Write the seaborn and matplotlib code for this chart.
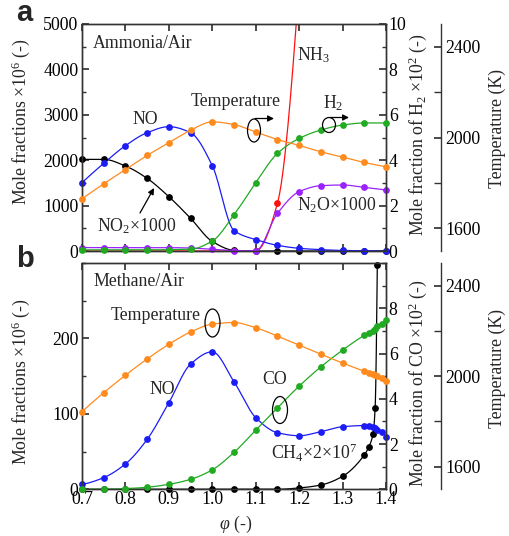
import numpy as np
import matplotlib
matplotlib.use("Agg")
import matplotlib.pyplot as plt
import seaborn as sns
from matplotlib.patches import Ellipse
from matplotlib.ticker import MultipleLocator, FixedLocator, StrMethodFormatter
from matplotlib.transforms import IdentityTransform

# ---------------- data ----------------
# (a) ammonia/air flames
phi_a = [0.70, 0.75, 0.80, 0.85, 0.90, 0.95, 1.00, 1.05, 1.10, 1.15, 1.20, 1.25, 1.30, 1.35, 1.40]
no_a = [1505, 1931, 2320, 2606, 2739, 2606, 1880, 450, 250, 125, 59, 30, 12, 6, 5]
no2_a = [2019, 2019, 1872, 1600, 1197, 720, 210, 15, 0, 0, 0, 0, 0, 0, 0]
n2o_a = [75, 75, 75, 75, 75, 65, 37, 10, 5, 830, 1307, 1439, 1454, 1402, 1344]
nh3_a = [0, 0, 0, 0, 0, 0, 0, 0, 0, 1050, 5900, np.nan, np.nan, np.nan, np.nan]
h2_a = [0.05, 0.05, 0.05, 0.05, 0.06, 0.08, 0.44, 1.59, 3.01, 4.30, 4.96, 5.33, 5.55, 5.64, 5.64]
temp_a = [1730, 1796, 1859, 1921, 1977, 2032, 2069, 2057, 2024, 1991, 1965, 1937, 1914, 1890, 1871]

# (b) methane/air flames
phi_b = [0.70, 0.75, 0.80, 0.85, 0.90, 0.95, 1.00, 1.05, 1.10, 1.15, 1.20, 1.25, 1.30, 1.35,
         1.36, 1.37, 1.375, 1.38, 1.39, 1.40]
no_b = [6.6, 15.5, 33.6, 66.2, 114.8, 166, 182.3, 142.6, 95, 75, 71, 76.4, 83, 84.5,
        83.4, 82, 80.8, 78.5, 75.5, 69.7]
ch4_b = [0, 0, 0, 0, 0, 0, 0, 0, 0, 0, 1.8, 5.7, 17.2, 45.4,
         55.6, 73.2, 108, 298, np.nan, np.nan]
co_b = [0, 0, 0.03, 0.09, 0.22, 0.44, 0.86, 1.63, 2.61, 3.6, 4.56, 5.41, 6.15, 6.8,
        6.9, 7.0, 7.09, 7.2, 7.29, 7.47]
temp_b = [1843, 1927, 2004, 2076, 2141, 2195, 2230, 2237, 2214, 2177, 2137, 2097, 2058, 2022,
          2016, 2009, 2005, 2000, 1992, 1980]

x_ticks = [0.7, 0.8, 0.9, 1.0, 1.1, 1.2, 1.3, 1.4]
x_ticklabels = ["0.7", "0.8", "0.9", "1.0", "1.1", "1.2", "1.3", "1.4"]

C_NO = "#1c1cf5"
C_T = "#ff8a1e"
C_G = "#22aa22"
C_K = "#000000"
C_P = "#9a22ff"
C_R = "#ff1010"

# ---------------- style ----------------
SERIF = "Liberation Serif"
sns.set_theme(style="ticks")
plt.rcParams["font.family"] = [SERIF, "DejaVu Serif"]
plt.rcParams["font.serif"] = [SERIF, "DejaVu Serif"]
plt.rcParams["mathtext.fontset"] = "custom"
plt.rcParams["mathtext.rm"] = SERIF
plt.rcParams["mathtext.it"] = SERIF + ":italic"
plt.rcParams["mathtext.default"] = "regular"
plt.rcParams["axes.formatter.use_mathtext"] = False
FS = 12.8

W, H = 510, 536
fig = plt.figure(figsize=(W / 100, H / 100), dpi=100)
INT_FMT = StrMethodFormatter("{x:.0f}")


def rect(left, top, right, bottom):
    return [left / W, 1 - bottom / H, (right - left) / W, (bottom - top) / H]


def pchip_curve(x, y, n=30):
    """Shape-preserving cubic through the given points."""
    x = np.asarray(x, float)
    y = np.asarray(y, float)
    ok = np.isfinite(y)
    x, y = x[ok], y[ok]
    h = np.diff(x)
    d = np.diff(y) / h
    m = np.zeros_like(y)
    for k in range(1, len(x) - 1):
        if d[k - 1] * d[k] > 0:
            w1 = 2 * h[k] + h[k - 1]
            w2 = h[k] + 2 * h[k - 1]
            m[k] = (w1 + w2) / (w1 / d[k - 1] + w2 / d[k])
    for i0, hh0, hh1, dd0, dd1 in [(0, h[0], h[1], d[0], d[1]),
                                   (-1, h[-1], h[-2], d[-1], d[-2])]:
        mm = ((2 * hh0 + hh1) * dd0 - hh0 * dd1) / (hh0 + hh1)
        if np.sign(mm) != np.sign(dd0):
            mm = 0.0
        elif np.sign(dd0) != np.sign(dd1) and abs(mm) > abs(3 * dd0):
            mm = 3 * dd0
        m[i0] = mm
    xs, ys = [], []
    for k in range(len(x) - 1):
        t = np.linspace(0, 1, n, endpoint=(k == len(x) - 2))
        h00 = 2 * t**3 - 3 * t**2 + 1
        h10 = t**3 - 2 * t**2 + t
        h01 = -2 * t**3 + 3 * t**2
        h11 = t**3 - t**2
        xs.append(x[k] + t * h[k])
        ys.append(h00 * y[k] + h10 * h[k] * m[k] + h01 * y[k + 1] + h11 * h[k] * m[k + 1])
    return np.concatenate(xs), np.concatenate(ys)


def series(ax, x, y, color, clip=False):
    xs, ys = pchip_curve(x, y)
    sns.lineplot(x=xs, y=ys, ax=ax, color=color, linewidth=0.9,
                 estimator=None, sort=False, legend=False)
    sns.scatterplot(x=x, y=y, ax=ax, color=color, s=24, linewidth=0,
                    legend=False, zorder=3, clip_on=clip)


def style_axes(ax, right_ax, t_ax):
    for a in (ax, right_ax, t_ax):
        for sp in a.spines.values():
            sp.set_color("#333333")
            sp.set_linewidth(1.0)
    ax.set_xlim(0.7, 1.4)
    ax.xaxis.set_major_locator(FixedLocator(x_ticks))
    ax.tick_params(axis="both", which="both", direction="in", top=True, right=False,
                   labelsize=FS, colors="#333333", labelcolor="black",
                   labelfontfamily=SERIF)
    ax.tick_params(which="major", length=5, pad=2.5)
    ax.tick_params(which="minor", length=3)
    right_ax.tick_params(axis="y", which="both", direction="in", labelsize=FS,
                         colors="#333333", labelcolor="black", pad=2,
                         labelfontfamily=SERIF)
    right_ax.tick_params(which="major", length=5)
    right_ax.tick_params(which="minor", length=3)
    t_ax.spines["right"].set_position(("axes", 1.181))
    for s in ("left", "top", "bottom"):
        t_ax.spines[s].set_visible(False)
    t_ax.set_ylim(1500, 2500)
    t_ax.yaxis.set_major_locator(FixedLocator([1600, 2000, 2400]))
    t_ax.yaxis.set_minor_locator(FixedLocator([1800, 2200]))
    t_ax.tick_params(axis="y", which="both", direction="in", labelsize=FS,
                     colors="#333333", labelcolor="black", pad=3,
                     labelfontfamily=SERIF)
    t_ax.tick_params(which="major", length=5)
    t_ax.tick_params(which="minor", length=5)
    for a in (ax, right_ax, t_ax):
        a.yaxis.set_major_formatter(INT_FMT)
        a.set_xlabel("")
        a.set_ylabel("")


# ---------------- panel a ----------------
ax_a = fig.add_axes(rect(82, 24, 386, 251))
ax_a_r = ax_a.twinx()
ax_a_t = ax_a.twinx()

series(ax_a, phi_a, no2_a, C_K)
series(ax_a, phi_a, nh3_a, C_R, clip=True)
series(ax_a, phi_a, n2o_a, C_P)
series(ax_a, phi_a, no_a, C_NO)
series(ax_a_r, phi_a, h2_a, C_G)
series(ax_a_t, phi_a, temp_a, C_T)

ax_a.set_ylim(0, 5000)
ax_a.yaxis.set_major_locator(MultipleLocator(1000))
ax_a.yaxis.set_minor_locator(MultipleLocator(500))
ax_a_r.set_ylim(0, 10)
ax_a_r.yaxis.set_major_locator(MultipleLocator(2))
ax_a_r.yaxis.set_minor_locator(MultipleLocator(1))
style_axes(ax_a, ax_a_r, ax_a_t)
ax_a.tick_params(labelbottom=False)

# ---------------- panel b ----------------
ax_b = fig.add_axes(rect(82, 263, 386, 489.3))
ax_b_r = ax_b.twinx()
ax_b_t = ax_b.twinx()

series(ax_b, phi_b, ch4_b, C_K)
series(ax_b, phi_b, no_b, C_NO)
series(ax_b_r, phi_b, co_b, C_G)
series(ax_b_t, phi_b, temp_b, C_T)

ax_b.set_ylim(0, 300)
ax_b.yaxis.set_major_locator(FixedLocator([0, 100, 200]))
ax_b.yaxis.set_minor_locator(FixedLocator([50, 150, 250, 300]))
ax_b_r.set_ylim(0, 10)
ax_b_r.yaxis.set_major_locator(FixedLocator([0, 2, 4, 6, 8]))
ax_b_r.yaxis.set_minor_locator(FixedLocator([1, 3, 5, 7, 9, 10]))
ax_b.set_xticks(x_ticks)
ax_b.set_xticklabels(x_ticklabels)
style_axes(ax_b, ax_b_r, ax_b_t)
ax_b.tick_params(axis="x", pad=1.5)

# ---------------- text ----------------
def ftext(x, y, s, **kw):
    kw.setdefault("fontsize", FS)
    kw.setdefault("ha", "center")
    kw.setdefault("va", "center")
    fig.text(x / W, 1 - y / H, s, **kw)


ftext(24, 13, "a", family="Liberation Sans", weight="bold", fontsize=21)
ftext(25, 259, "b", family="Liberation Sans", weight="bold", fontsize=21)

ftext(21, 122, r"Mole fractions $\times$10$^{6}$ (-)", rotation=90)
ftext(21, 382, r"Mole fractions $\times$10$^{6}$ (-)", rotation=90)
ftext(418, 135, r"Mole fraction of H$_2$ $\times$10$^{2}$ (-)", rotation=90)
ftext(418, 383, r"Mole fraction of CO $\times$10$^{2}$ (-)", rotation=90)
ftext(497, 128, "Temperature (K)", rotation=90)
ftext(497, 368, "Temperature (K)", rotation=90)
ftext(236, 524, r"$\mathit{φ}$ (-)")

ftext(93, 43, "Ammonia/Air", ha="left")
ftext(236, 102, "Temperature")
ftext(145, 120, "NO")
ftext(137, 226, r"NO$_2$$\times$1000")
ftext(297, 55, r"NH$_3$", ha="left")
ftext(333, 103, r"H$_2$")
ftext(297, 205, r"N$_2$O$\times$1000", ha="left")

ftext(93, 282, "Methane/Air", ha="left")
ftext(111, 315, "Temperature", ha="left")
ftext(162, 390, "NO")
ftext(275, 380, "CO")
ftext(271, 453, r"CH$_4$$\times$2$\times$10$^{7}$", ha="left")


def ring(cx, cy, w, h):
    fig.add_artist(Ellipse((cx, H - cy), w, h, transform=IdentityTransform(),
                           fill=False, ec="black", lw=0.9))


def arrow(x0, y0, x1, y1):
    ax_a.annotate("", xy=(x1, H - y1), xytext=(x0, H - y0),
                  xycoords="figure pixels", textcoords="figure pixels",
                  annotation_clip=False,
                  arrowprops=dict(arrowstyle="-|>", lw=0.9, color="black",
                                  mutation_scale=9, shrinkA=0, shrinkB=0))


arrow(140, 213, 154, 188)
ring(254, 130.5, 13, 23)
arrow(255, 118.5, 274, 118.5)
ring(329, 125, 13, 15)
arrow(330, 117.5, 349, 117.5)
ring(212.5, 323, 15, 28)
arrow(213, 309.3, 231, 309.3)
ring(280, 410, 15, 27)
arrow(279, 423.5, 299, 423.5)

fig.savefig("out.png", dpi=100)
